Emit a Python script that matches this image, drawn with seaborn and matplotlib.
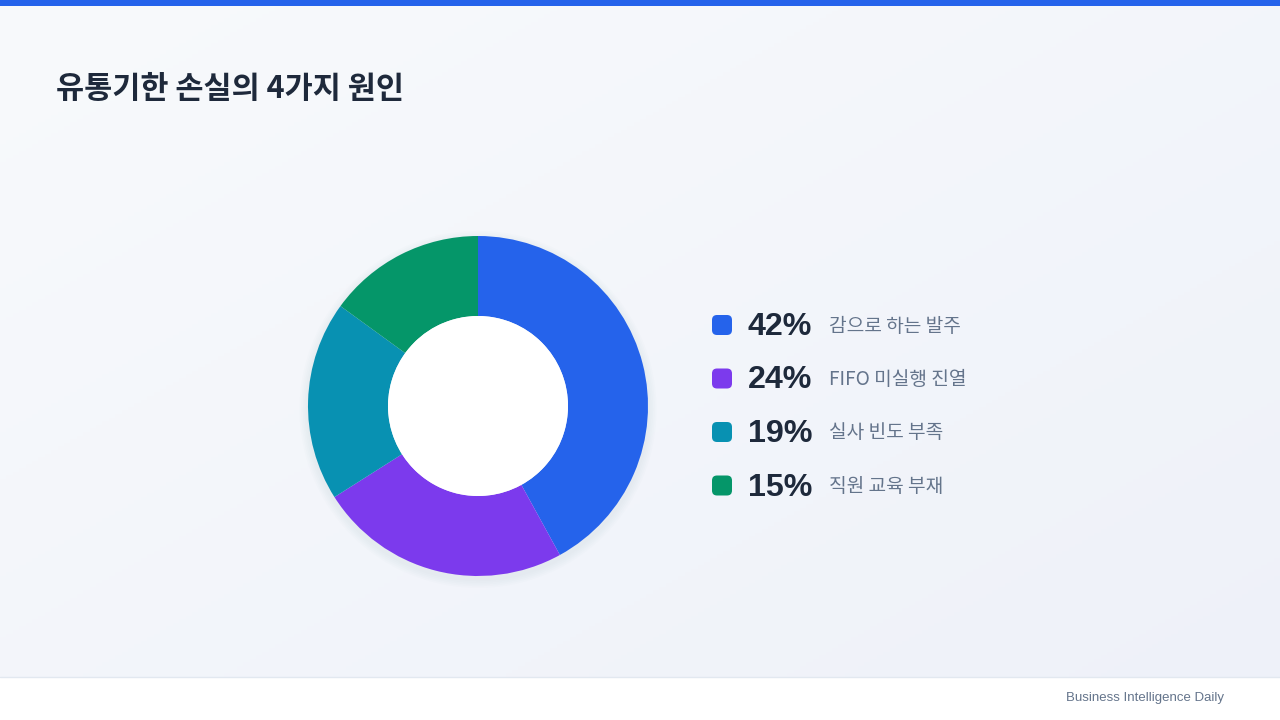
import numpy as np
import matplotlib
matplotlib.use("Agg")
import matplotlib.pyplot as plt
from matplotlib.patches import FancyBboxPatch, Rectangle, Circle
import seaborn as sns

# data
causes = ['감으로 하는 발주', 'FIFO 미실행 진열', '실사 빈도 부족', '직원 교육 부재']
shares = [42, 24, 19, 15]
colors = ['#2563EB', '#7C3AED', '#0891B2', '#059669']

sns.set_theme(style='white')
plt.rcParams['font.family'] = ['Noto Sans CJK KR', 'DejaVu Sans']

W, H = 1280, 720
fig = plt.figure(figsize=(12.8, 7.2), dpi=100)

# background gradient
bg = fig.add_axes([0, 0, 1, 1])
bg.set_axis_off()
yy, xx = np.mgrid[0:1:200j, 0:1:200j]
t = (xx * 0.5 + yy * 0.5)
c0 = np.array([248, 250, 252]) / 255
c1 = np.array([238, 241, 249]) / 255
grad = c0[None, None, :] * (1 - t[..., None]) + c1[None, None, :] * t[..., None]
bg.imshow(grad, extent=[0, W, H, 0], aspect='auto')
bg.set_xlim(0, W)
bg.set_ylim(H, 0)
bg.add_patch(Rectangle((0, 0), W, 6, color='#2563EB', lw=0))
bg.add_patch(Rectangle((0, 677), W, 43, color='white', lw=0))
bg.plot([0, W], [677, 677], color='#E2E8F0', lw=1)

bg.text(56, 89, '유통기한 손실의 4가지 원인', fontsize=22, fontweight='black',
        color='#1E293B', va='center', ha='left')
bg.text(1224, 698, 'Business Intelligence Daily', fontsize=9.5, color='#64748B',
        va='center', ha='right', family=['Liberation Sans', 'DejaVu Sans'])

# donut
cx, cy, r = 478, 406, 170
ax = fig.add_axes([(cx - r * 1.1) / W, (H - cy - r * 1.1) / H, 2.2 * r / W, 2.2 * r / H])
ax.set_axis_off()
for k in range(5):
    ax.add_patch(Circle((0, -0.02), 1.0 + 0.01 * (k + 1), color='#94A3B8',
                        alpha=0.025, lw=0, zorder=0))
ax.pie(shares, colors=colors, startangle=90, counterclock=False, radius=1,
       wedgeprops=dict(width=1 - 90 / 170, linewidth=0))
ax.add_patch(Circle((0, 0), 90 / 170, color='white', lw=0, zorder=5))
ax.set_xlim(-1.1, 1.1)
ax.set_ylim(-1.1, 1.1)

# legend
y0, dy = 325, 53.5
for i, (lab, val, col) in enumerate(zip(causes, shares, colors)):
    y = y0 + i * dy
    bg.add_patch(FancyBboxPatch((712, y - 10), 20, 20,
                                boxstyle='round,pad=0,rounding_size=5',
                                color=col, lw=0))
    bg.text(748, y + 2, f'{val}%', fontsize=23.2, fontweight='bold', color='#1E293B',
            va='center', ha='left', family=['Liberation Sans', 'DejaVu Sans'])
    bg.text(829, y + 1, lab, fontsize=13.8, color='#64748B', va='center', ha='left')

fig.savefig('out.png', dpi=100)
